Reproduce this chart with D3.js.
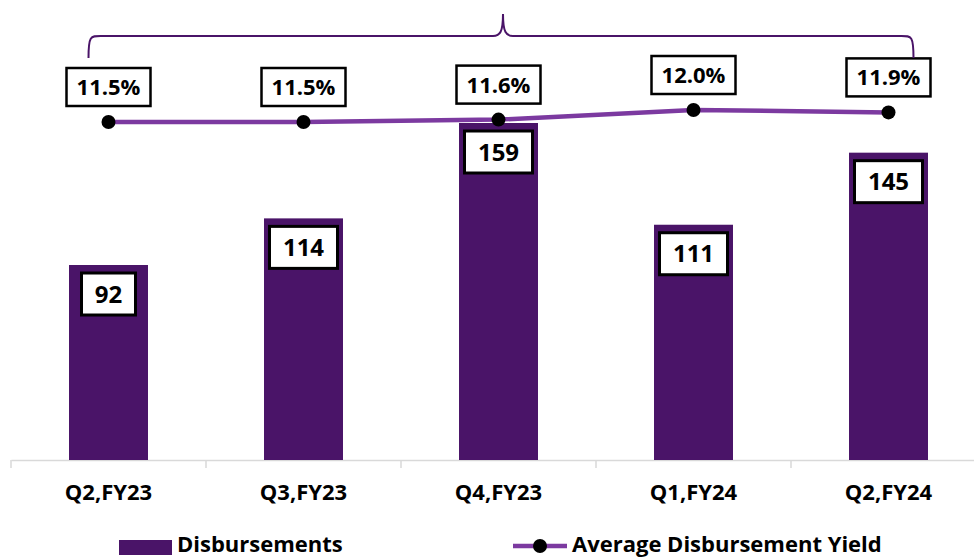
<!DOCTYPE html>
<html>
<head>
<meta charset="utf-8">
<script src="https://cdn.jsdelivr.net/npm/d3@7"></script>
<style>
  html, body { margin: 0; padding: 0; background: #fff; }
  svg { display: block; }
  text { font-family: "Liberation Sans Narrow", "Open Sans", Arial, sans-serif; font-weight: bold; fill: #000; }
</style>
</head>
<body>
<svg id="chart" width="974" height="558"></svg>
<script>
const quarters = ["Q2,FY23", "Q3,FY23", "Q4,FY23", "Q1,FY24", "Q2,FY24"];
const disbursements = [92, 114, 159, 111, 145];
const avgYield = [11.5, 11.5, 11.6, 12.0, 11.9];
const seriesNames = ["Disbursements", "Average Disbursement Yield"];

const barColor = "#4A1468";
const lineColor = "#7C3AA0";

const svg = d3.select("#chart");
const baseY = 460;

const x = d3.scaleBand().domain(quarters).range([11, 986]).paddingInner(0.595).paddingOuter(0.2975);
const y = d3.scaleLinear().domain([0, 159]).range([baseY, 123]);
const y2 = d3.scaleLinear().domain([11.5, 12.0]).range([122, 110]);
const cx = d => x(d) + x.bandwidth() / 2;

// category axis
const axis = d3.axisBottom(x).tickSize(0).tickFormat("");
const gAxis = svg.append("g").attr("transform", `translate(0,${baseY})`).call(axis);
gAxis.select(".domain").attr("stroke", "#D9D9D9").attr("stroke-width", 1.5);
const bandEdges = quarters.map(q => x(q) - x.step() * x.paddingInner() / 2);
gAxis.selectAll(".sep").data(bandEdges).enter().append("line")
  .attr("x1", d => d).attr("x2", d => d).attr("y1", 0).attr("y2", 8)
  .attr("stroke", "#D9D9D9").attr("stroke-width", 1.5);
svg.append("g").selectAll("text").data(quarters).enter().append("text")
  .attr("x", d => cx(d)).attr("y", 500)
  .attr("text-anchor", "middle").style("font-size", "22px")
  .text(d => d);

// bars
svg.append("g").selectAll("rect").data(quarters).enter().append("rect")
  .attr("x", d => x(d)).attr("width", x.bandwidth())
  .attr("y", (d, i) => y(disbursements[i]))
  .attr("height", (d, i) => baseY - y(disbursements[i]))
  .attr("fill", barColor);

// bar value labels
const barLab = svg.append("g").selectAll("g").data(quarters).enter().append("g")
  .attr("transform", (d, i) => `translate(${cx(d)},${y(disbursements[i]) + 29})`);
barLab.append("rect")
  .attr("x", (d, i) => String(disbursements[i]).length > 2 ? -34 : -27)
  .attr("width", (d, i) => String(disbursements[i]).length > 2 ? 68 : 54)
  .attr("y", -21).attr("height", 42)
  .attr("fill", "#fff").attr("stroke", "#000").attr("stroke-width", 3);
barLab.append("text").attr("text-anchor", "middle").attr("dy", "0.36em")
  .style("font-size", "24px").text((d, i) => disbursements[i]);

// yield line
const line = d3.line().x(d => cx(d)).y((d, i) => y2(avgYield[i]));
svg.append("path").datum(quarters).attr("d", line)
  .attr("fill", "none").attr("stroke", lineColor).attr("stroke-width", 4.5);
svg.append("g").selectAll("circle").data(quarters).enter().append("circle")
  .attr("cx", d => cx(d)).attr("cy", (d, i) => y2(avgYield[i])).attr("r", 7)
  .attr("fill", "#000");

// yield labels
const yLab = svg.append("g").selectAll("g").data(quarters).enter().append("g")
  .attr("transform", (d, i) => `translate(${cx(d)},${y2(avgYield[i]) - 35})`);
yLab.append("rect").attr("x", -42).attr("width", 84).attr("y", -19).attr("height", 38)
  .attr("fill", "#fff").attr("stroke", "#000").attr("stroke-width", 2.5);
yLab.append("text").attr("text-anchor", "middle").attr("dy", "0.36em")
  .style("font-size", "22px").text((d, i) => avgYield[i].toFixed(1) + "%");

// brace over the period
const bx0 = cx(quarters[0]) - 20, bx1 = cx(quarters[4]) + 25, bm = (bx0 + bx1) / 2 + 2;
const bTop = 36, bBot = 58, bTip = 14;
const brace = `M${bx0},${bBot} C${bx0},${bTop} ${bx0 + 2},${bTop} ${bx0 + 12},${bTop}
  L${bm - 10},${bTop} C${bm - 3},${bTop} ${bm},${bTop - 4} ${bm},${bTip}
  C${bm},${bTop - 4} ${bm + 3},${bTop} ${bm + 10},${bTop}
  L${bx1 - 12},${bTop} C${bx1 - 2},${bTop} ${bx1},${bTop} ${bx1},${bBot}`;
svg.append("path").attr("d", brace).attr("fill", "none")
  .attr("stroke", barColor).attr("stroke-width", 2);

// legend
const leg = svg.append("g");
leg.append("rect").attr("x", 119).attr("y", 540).attr("width", 53).attr("height", 15).attr("fill", barColor);
leg.append("text").attr("x", 177).attr("y", 552).style("font-size", "22px").text(seriesNames[0]);
leg.append("line").attr("x1", 513).attr("x2", 567).attr("y1", 546).attr("y2", 546)
  .attr("stroke", lineColor).attr("stroke-width", 4.5);
leg.append("circle").attr("cx", 540).attr("cy", 546).attr("r", 7).attr("fill", "#000");
leg.append("text").attr("x", 572).attr("y", 552).style("font-size", "22px").text(seriesNames[1]);
</script>
</body>
</html>
